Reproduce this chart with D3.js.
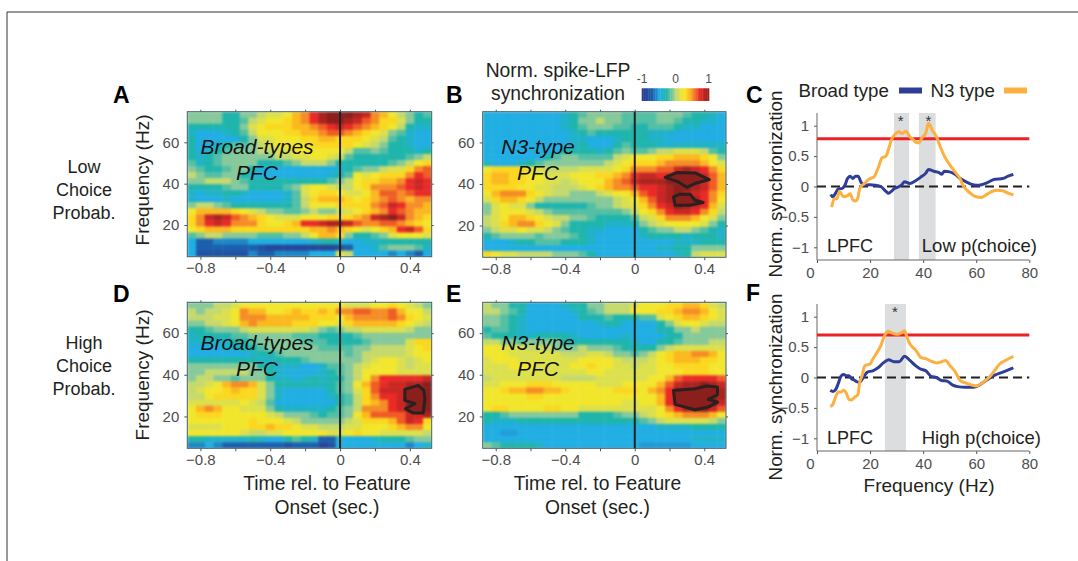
<!DOCTYPE html>
<html>
<head>
<meta charset="utf-8">
<script src="https://cdn.jsdelivr.net/npm/d3@7"></script>
<style>
  html, body { margin: 0; padding: 0; background: #fff; }
  svg { display: block; font-family: "Liberation Sans", Arial, sans-serif; }
</style>
</head>
<body>
<div id="chart"></div>
<script>
const timeBins = [-0.85,-0.8,-0.75,-0.7,-0.65,-0.6,-0.55,-0.5,-0.45,-0.4,-0.35,-0.3,-0.25,-0.2,-0.15,-0.1,-0.05,0,0.05,0.1,0.15,0.2,0.25,0.3,0.35,0.4,0.45,0.5];
const freqBins = [73.3,70.4,67.5,64.6,61.7,58.7,55.8,52.9,50,47.1,44.2,41.2,38.3,35.4,32.5,29.6,26.7,23.8,20.8,17.9,15,12.1,9.2,6.2];

// values in tenths of the colorbar, -10 .. 10, rows go top to bottom
const heatA = [
[-1,-1,-1,-1,-3,-3,-1,-1,0,1,1,2,4,5,7,9,10,10,10,9,8,5,4,2,0,-1,-3,-2],
[-1,-1,-1,-1,-3,-3,-2,0,1,2,2,3,4,5,7,9,10,10,9,8,6,5,3,3,1,-1,-3,-3],
[-3,-3,-3,-3,-3,-3,-1,1,2,3,3,3,4,4,5,6,7,8,7,6,5,4,3,2,0,-3,-4,-4],
[-4,-5,-5,-5,-4,-3,-2,0,2,2,2,3,3,4,4,5,6,6,5,4,3,2,1,-1,-2,-4,-5,-5],
[-3,-5,-5,-5,-5,-5,-3,-1,1,1,2,2,2,3,3,4,4,3,3,3,2,1,0,-2,-3,-4,-5,-5],
[-3,-5,-5,-4,-3,-2,-2,-1,0,1,2,2,2,2,3,3,3,3,3,2,1,0,-1,-3,-3,-4,-5,-5],
[-3,-5,-4,-3,-2,-1,-1,-1,0,0,1,1,2,2,2,2,2,2,0,-2,-2,-1,-2,-3,-3,-3,-4,-3],
[-3,-4,-3,-2,-1,-1,-1,-1,-1,-1,0,0,1,1,2,2,1,0,-2,-3,-3,-3,-3,-3,-3,-2,-1,0],
[-2,-4,-3,-2,-1,-1,-1,-1,-3,-3,-3,-2,-1,0,0,0,-1,-3,-3,-3,-3,-3,-3,-2,-1,0,2,3],
[-1,-2,-3,-3,-2,-1,-1,-3,-5,-5,-5,-5,-5,-5,-5,-5,-5,-4,-3,-2,-1,-1,0,1,1,3,5,6],
[0,-1,-2,-2,-1,-1,-3,-4,-5,-5,-5,-5,-5,-5,-5,-5,-4,-3,-2,2,1,2,3,3,3,5,7,6],
[-1,-1,0,0,0,-1,-2,-3,-3,-3,-3,-3,-3,-3,-3,-3,-2,-1,0,2,3,3,4,4,5,7,8,7],
[-3,-3,-3,-3,-2,-1,-1,-3,-3,-3,-3,-2,-1,1,2,2,1,0,0,2,3,5,5,5,6,7,8,7],
[-4,-5,-4,-4,-3,-3,-4,-5,-5,-5,-5,-4,-2,1,2,3,3,2,1,1,2,4,6,6,5,6,7,7],
[-4,-5,-5,-5,-4,-5,-5,-5,-5,-5,-5,-4,-2,0,3,4,4,4,3,2,3,4,5,6,5,4,5,5],
[-1,0,0,-1,-2,-3,-3,-3,-3,-3,-3,-3,-2,0,2,2,2,3,3,3,3,5,6,8,7,5,5,4],
[2,4,4,4,4,3,2,1,0,-1,-1,-2,-2,-1,0,-1,-1,0,1,2,3,4,5,7,6,5,4,4],
[3,5,8,9,8,6,5,4,3,2,1,1,1,2,2,2,3,3,3,4,5,8,9,10,8,5,4,3],
[3,5,7,8,7,5,5,5,3,2,2,3,4,7,7,8,9,9,8,6,5,5,6,6,5,4,3,2],
[2,3,4,4,4,3,3,3,3,3,3,3,3,3,4,4,5,4,3,2,1,2,3,4,7,8,6,3],
[-2,-1,0,0,-1,-1,-1,-1,-2,-2,-2,-1,-1,0,2,4,4,3,-1,-3,-3,-2,-1,1,2,2,2,1],
[-5,-7,-7,-6,-6,-6,-6,-5,-5,-5,-5,-5,-5,-5,-4,-3,-3,-4,-5,-5,-4,-4,-3,-3,-3,-3,-3,-3],
[-5,-7,-7,-7,-7,-7,-7,-7,-8,-9,-9,-9,-9,-9,-9,-9,-9,-8,-7,-5,-5,-4,-2,-1,-1,-1,-2,-4],
[-5,-8,-8,-8,-8,-8,-8,-6,-7,-7,-6,-6,-6,-6,-5,-5,-5,1,0,-5,-5,-5,-5,-6,-5,-6,-7,-5]
];
const heatB = [
[-5,-5,-5,-5,-5,-5,-5,-5,-5,-4,-3,-2,-1,-1,-1,-1,-2,-2,-2,-2,-1,-1,-1,-2,-3,-3,-4,-5],
[-5,-5,-5,-5,-5,-5,-5,-5,-5,-4,-3,-1,-1,0,-1,-1,-2,-2,-2,-2,-1,-1,-2,-3,-3,-4,-4,-5],
[-5,-5,-5,-5,-5,-5,-5,-5,-5,-4,-3,-2,-1,-1,-1,-2,-2,-3,-3,-2,-2,-2,-3,-4,-4,-5,-5,-5],
[-5,-5,-5,-5,-5,-5,-5,-5,-5,-5,-4,-3,-2,-3,-3,-3,-3,-3,-3,-4,-4,-4,-5,-5,-5,-5,-5,-5],
[-5,-5,-5,-5,-5,-5,-5,-5,-5,-5,-4,-4,-5,-5,-5,-4,-3,-3,-3,-4,-4,-5,-5,-5,-5,-5,-5,-5],
[-5,-5,-5,-5,-5,-5,-5,-5,-5,-5,-4,-3,-5,-5,-5,-3,-2,-3,-3,-3,-4,-4,-4,-4,-4,-4,-4,-4],
[-5,-5,-5,-5,-5,-5,-5,-5,-5,-3,-3,-3,-3,-4,-3,-2,-1,-2,-2,-1,0,0,1,1,1,0,-2,-3],
[-5,-5,-5,-5,-5,-5,-5,-3,-2,-1,-1,-2,-2,-2,-2,0,1,2,2,2,3,3,4,4,4,3,2,-1],
[-4,-5,-5,-5,-4,-3,-2,-1,-1,-1,-1,-1,-1,-1,0,1,2,3,3,3,4,5,5,5,5,4,2,1],
[2,3,3,3,3,1,1,0,0,0,0,1,1,1,1,2,3,5,5,5,6,6,8,9,8,7,5,3],
[3,4,4,3,3,2,2,1,1,1,2,2,2,3,3,4,5,7,8,8,7,8,9,10,9,8,6,4],
[3,4,4,3,3,2,2,1,1,0,1,2,2,2,4,5,6,8,9,9,9,10,10,10,10,8,6,4],
[3,3,3,3,2,2,1,1,0,0,0,1,2,3,4,5,5,6,7,7,8,9,10,10,9,8,6,4],
[2,4,5,5,5,3,2,1,0,0,-1,-1,-1,0,1,2,2,4,6,7,8,9,10,9,8,7,5,3],
[1,3,4,4,3,2,0,-1,-1,-1,-1,-1,-1,-1,-1,0,1,2,4,6,8,9,10,10,9,7,5,2],
[-1,1,2,1,1,-1,-3,-3,-3,-3,-3,-3,-2,-1,-1,0,1,1,3,5,7,8,10,9,8,7,4,1],
[-1,1,2,2,2,1,0,-1,-2,-2,-2,-2,-2,-2,-2,-2,-1,0,2,3,5,7,8,8,7,5,3,0],
[0,1,2,4,4,3,2,1,0,0,-1,-1,-2,-3,-3,-3,-3,-2,0,1,3,5,5,5,4,2,1,-1],
[0,1,3,4,5,5,3,2,1,-1,-3,-3,-3,-3,-4,-4,-4,-3,-1,0,1,2,2,2,2,1,-1,-3],
[-1,0,1,1,2,1,1,0,-1,-2,-3,-3,-4,-4,-5,-5,-5,-5,-3,-2,-1,-1,0,0,-1,-2,-3,-4],
[-3,-2,-1,-1,-1,-1,-2,-1,-1,-1,-2,-3,-4,-5,-5,-5,-5,-5,-4,-3,-3,-3,-3,-4,-3,-3,-3,-4],
[-5,-5,-5,-4,-3,-3,-2,-2,-2,-3,-3,-3,-4,-5,-5,-5,-5,-5,-5,-5,-5,-5,-4,-4,-4,-3,-3,-3],
[-5,-5,-5,-5,-5,-5,-5,-5,-5,-5,-5,-5,-5,-5,-5,-5,-5,-5,-5,-5,-4,-4,-3,-3,-1,-1,-1,-1],
[3,2,1,1,0,0,0,0,-1,-1,-1,-2,-3,-5,-5,-5,-5,-5,-5,-5,-5,-5,-4,-3,0,1,1,1]
];
const heatD = [
[-1,-1,-1,0,0,1,2,2,2,2,2,2,2,2,2,2,2,2,1,1,1,2,2,3,2,1,0,-1],
[0,-1,0,0,1,2,5,4,4,2,2,3,4,3,3,4,3,5,5,6,6,5,5,6,4,2,2,0],
[0,0,0,1,1,2,5,5,5,4,4,4,4,4,3,3,3,2,4,5,5,5,5,6,5,3,2,1],
[-1,-1,0,0,1,2,4,5,4,4,4,4,3,3,3,2,2,1,3,4,4,4,4,4,3,2,1,0],
[-3,-3,-2,-1,-1,-1,0,1,1,1,1,1,1,1,0,-1,-2,-1,0,0,1,1,1,1,1,0,-1,-1],
[-4,-3,-3,-3,-3,-2,-2,-1,-1,-1,-1,-1,-2,-2,-2,-3,-3,-3,-3,-2,-1,-1,-1,-1,-1,-1,-1,-1],
[-4,-4,-4,-4,-4,-3,-3,-2,-1,-1,-1,-1,-1,-2,-2,-2,-3,-3,-3,-3,-2,-1,-1,-1,-1,1,3,3],
[-5,-5,-5,-5,-4,-4,-3,-3,-2,-1,-1,-1,-1,-1,-1,-2,-2,-2,-2,-1,-1,0,0,0,0,1,2,3],
[-5,-5,-5,-5,-5,-5,-5,-4,-3,-3,-2,-1,-1,-1,-1,-1,-1,-1,-2,-1,0,0,0,0,0,1,2,2],
[-3,-3,-3,-3,-3,-3,-3,-3,-4,-4,-3,-3,-3,-2,-1,-1,-1,-1,-1,-1,0,1,2,2,1,0,1,2],
[-1,-1,-1,-1,-1,-1,-1,-1,-3,-3,-4,-4,-4,-5,-5,-4,-2,-2,-1,0,1,2,2,2,1,0,1,1],
[-1,-1,0,0,0,0,0,-1,-1,-3,-4,-5,-5,-5,-5,-4,-3,-2,-1,0,2,2,2,2,1,1,1,1],
[-1,0,0,-1,-1,-2,-1,-1,-1,-3,-4,-4,-5,-4,-3,-4,-3,-3,-1,0,2,5,7,7,7,7,7,8],
[0,0,1,2,4,5,5,4,1,-1,-3,-3,-3,-3,-3,-3,-3,-2,-1,2,4,6,7,8,8,9,9,10],
[0,1,2,2,3,4,3,3,1,-1,-4,-5,-5,-5,-5,-5,-3,-2,-1,1,3,6,8,8,8,10,10,10],
[0,0,2,3,3,3,3,3,1,-1,-4,-5,-5,-5,-5,-5,-4,-3,-2,0,3,5,7,7,8,10,10,10],
[1,1,1,1,1,1,2,1,0,-2,-5,-5,-5,-5,-5,-5,-5,-3,-2,0,3,4,5,7,8,10,10,10],
[2,4,5,4,2,2,1,1,1,-1,-3,-4,-4,-4,-4,-4,-3,-2,-1,0,5,5,5,7,8,10,10,10],
[2,3,3,3,2,2,2,2,2,1,0,-1,-1,-1,-2,-3,-2,-2,-1,2,4,6,6,6,6,8,8,9],
[2,2,2,2,2,2,2,3,2,2,2,1,0,-1,-1,-1,-1,-1,0,1,3,3,3,4,6,8,7,3],
[1,1,1,1,2,2,2,3,3,4,3,3,2,1,1,0,0,0,1,1,2,2,2,3,4,5,5,2],
[2,2,2,2,2,2,1,0,0,1,1,2,2,2,2,2,1,1,2,3,2,2,1,1,1,1,1,0],
[-3,-3,-4,-4,-4,-4,-4,-3,-4,-5,-5,-3,-2,-3,-4,-7,-7,-4,-5,-5,-5,-4,-3,-3,-3,-2,-1,-1],
[-6,-6,-5,-6,-7,-7,-7,-7,-7,-7,-7,-8,-7,-7,-7,-9,-8,-5,-5,-5,-5,-5,-5,-5,-5,-6,-5,-4]
];
const heatE = [
[0,-1,-1,-3,-3,-5,-5,-5,-5,-4,-3,-3,-1,-1,0,0,0,1,2,2,2,3,3,4,4,3,1,0],
[0,0,-1,-2,-3,-5,-5,-5,-5,-5,-4,-3,-2,-1,0,0,0,2,2,2,3,3,4,5,5,4,2,1],
[-1,-1,-2,-3,-4,-5,-5,-5,-5,-5,-5,-3,-3,-3,-2,-3,-3,-3,-2,-2,1,2,3,4,4,3,2,1],
[-1,-1,-2,-3,-4,-5,-5,-5,-5,-5,-5,-5,-5,-4,-3,-3,-5,-5,-5,-5,-3,-1,1,2,2,1,0,0],
[-3,-2,-2,-3,-4,-5,-5,-5,-5,-5,-5,-5,-5,-5,-5,-5,-5,-5,-5,-5,-3,-3,-1,-1,0,-1,-1,-1],
[-2,-3,-3,-3,-4,-4,-3,-3,-3,-3,-4,-5,-5,-5,-5,-5,-4,-5,-5,-5,-5,-3,-3,-1,-1,-1,-1,-1],
[0,0,-1,-1,-2,-1,-1,-1,-1,-3,-3,-3,-3,-3,-3,-3,-3,-4,-5,-5,-3,-3,-2,-1,-1,-1,0,0],
[2,2,1,1,1,0,0,0,-1,-1,-1,0,-1,-1,-1,-2,-3,-3,-3,-3,-1,0,1,1,1,1,1,1],
[2,2,2,1,1,1,1,1,1,0,0,0,1,1,0,-1,-1,-2,-1,0,2,3,4,4,5,5,4,2],
[1,2,2,2,1,1,1,1,1,1,1,2,2,2,2,1,0,0,0,1,2,3,4,4,4,3,3,2],
[1,1,1,2,2,2,1,1,1,1,2,2,3,2,2,1,1,0,1,1,2,2,3,3,3,3,2,2],
[1,1,1,1,1,1,1,1,1,1,1,1,2,2,1,1,1,1,1,1,2,2,2,3,3,3,2,2],
[0,1,1,1,1,1,1,1,1,0,0,0,0,1,1,1,1,1,1,2,2,4,6,7,7,7,7,6],
[1,1,2,2,2,3,3,3,2,2,2,2,2,1,1,1,2,2,2,2,4,6,8,9,9,10,9,8],
[2,2,3,4,4,5,5,4,4,3,2,2,2,2,2,3,3,3,2,4,5,7,10,10,10,10,10,9],
[2,2,2,2,2,3,3,2,2,2,2,2,2,2,2,2,2,2,2,2,4,7,10,10,10,10,10,9],
[2,2,2,2,2,2,2,2,2,2,2,2,2,2,2,2,1,1,2,2,4,7,9,10,10,10,10,8],
[2,3,3,2,2,2,2,3,3,2,2,1,1,1,1,1,1,1,1,1,2,5,7,9,10,10,8,6],
[-3,-3,-2,-1,-1,-1,-1,-1,-1,-1,-1,-3,-3,-3,-3,-2,-1,-1,0,1,2,3,4,5,5,5,4,2],
[-3,-4,-4,-4,-3,-3,-3,-3,-3,-3,-3,-3,-3,-3,-3,-3,-3,-3,-2,-1,0,1,1,1,1,1,0,-1],
[-5,-5,-5,-5,-5,-5,-5,-5,-5,-5,-5,-5,-5,-5,-5,-5,-5,-5,-5,-5,-4,-4,-4,-4,-3,-3,-3,-3],
[-5,-5,-5.4,-5.4,-5,-5,-5,-5,-5,-5,-5,-5,-5,-5,-5,-5,-5,-5,-5,-5,-5,-5,-5,-5,-5,-5,-5,-5],
[-5,-5,-5,-5,-5,-5,-5,-5,-5,-5,-5,-5,-5,-5,-5,-5,-5,-5,-5,-5,-5,-5,-5,-5,-4,-4,-4,-4],
[-1,-2,-3,-3,-3,-3,-4,-5,-5,-5,-5,-5,-5,-5,-5,-5,-5,-5,-5.5,-5.5,-5.5,-5.5,-5.5,-5.5,-5,-5,-5,-5]
];

// significance contours, [time, frequency]
const contourB1 = [[.175,43.2],[.242,45.5],[.347,45.3],[.429,42.1],[.356,40.5],[.299,38.4],[.251,41]];
const contourB2 = [[.223,33.8],[.261,35.1],[.318,35.1],[.347,32.2],[.394,31.1],[.318,29.8],[.232,29.8]];
const contourD = [[.371,33],[.448,34.9],[.48,32.5],[.486,28.5],[.476,21.6],[.419,21.6],[.375,23.7],[.429,26.1],[.371,27.7]];
const contourE = [[.223,32.5],[.347,33.3],[.413,34.6],[.476,34.1],[.476,30.4],[.423,28.2],[.476,26.9],[.423,24.5],[.347,23.2],[.232,25.8]];

const colorStops = [-10,-7,-5,-3,-1,0,2.4,4,5,7,10];
const colorRange = ['#2b3990','#1c60ad','#20aee3','#1fb5ad','#86c99b','#c5d96c','#fbe91f','#fbb81f','#f58c26','#ea2a26','#8a1f1c'];
const colorbarValues = d3.range(-10, 10.01, 0.5);

const freqC = [5.5,6.5,7.5,8.5,10,11.5,12.5,13.5,14.5,15.5,16,17,18,19,20,21.5,23,24.5,26,27,28,29,30,31,32,33.5,35,36.5,37.5,38.5,39.5,41,42,43.5,45,46.5,48,50,52,54,55,56.5,58,60,62,64,66,68,70,72,74];
const n3C = [-.34,-.2,-.2,-.08,-.17,-.15,-.12,-.22,-.24,-.17,-.05,.02,.05,.1,.13,.16,.3,.47,.5,.62,.76,.84,.88,.9,.87,.91,.82,.76,.72,.72,.8,.88,1.04,.92,.82,.65,.5,.36,.24,.12,.02,-.06,-.12,-.17,-.18,-.13,-.08,-.06,-.07,-.11,-.14];
const freqBroadC = [5.2,6,7,8,9.5,10.5,11.5,12.5,13.5,14.5,15.5,16.5,17.5,20,22,24,26,27,28,29,31,32,33,35,37,39,41,42,44,46,47,48,50,52,54,56,58,60,62,64,67,70,72,74];
const broadC = [-.13,-.17,-.11,-.04,-.03,.02,.13,.17,.13,.17,.17,.08,.02,.03,.02,0,-.08,-.11,-.08,-.04,0,.03,.08,.05,.09,.15,.22,.28,.25,.23,.2,.25,.24,.2,.13,.08,.04,.02,.03,.06,.12,.13,.17,.2];
const freqF = [5,6,7,8,9,10,11,12,13,14,15,15.5,16,17,18,19,20,21,23,24,25,26,27,28,30,31,32,33,34,35,36,37,38,39,41,43,45,47,48.5,50,52,54,56,58,60,62,64,65,67,69,71,74];
const n3F = [-.48,-.44,-.32,-.24,-.24,-.21,-.25,-.36,-.37,-.33,-.3,-.27,-.1,.03,.19,.21,.22,.3,.44,.52,.64,.73,.76,.74,.71,.72,.74,.77,.65,.55,.5,.46,.4,.33,.31,.27,.24,.26,.28,.2,.1,-.05,-.09,-.12,-.14,-.1,-.03,.01,.12,.23,.28,.35];
const freqBroadF = [5,6,7,8,9,10,11,12,13,14,15,16,17,19,21,23,25,27,29,31,33,35,37,39,41,43,45,47,49,51,53,56,59,61,63,65,67,70,74];
const broadF = [-.21,-.23,-.2,-.1,.02,.05,.03,.03,-.02,-.04,-.07,-.08,-.03,.09,.11,.16,.24,.29,.26,.26,.35,.28,.2,.14,.11,.02,0,-.05,-.06,-.12,-.15,-.16,-.16,-.13,-.07,-.01,.04,.09,.16];

const thresholdC = 0.785, thresholdF = 0.70;
const sigC = [[29,34.7],[38.4,44.7]], starsC = [31.5,42];
const sigF = [[25.6,33.5]], starsF = [29.4];

const blue = '#2e3d98', orange = '#fbb040', red = '#ee2027', tickGrey = '#555';

const svg = d3.select('#chart').append('svg').attr('width', 1078).attr('height', 561);

/* page frame */
svg.append('path').attr('d', 'M7,561V12H1078').attr('fill', 'none').attr('stroke', '#333').attr('stroke-width', 1);

const color = d3.scaleLinear().domain(colorStops).range(colorRange);

function styleAxis(g) {
    g.select('.domain').remove();
    g.selectAll('line').attr('stroke', tickGrey);
    g.selectAll('text').attr('fill', '#4d4d4d').attr('font-size', 15).attr('font-family', '"Liberation Sans", Arial, sans-serif');
}

function label(txt, x, y, size, opts) {
    opts = opts || {};
    const t = svg.append('text').text(txt)
        .attr('x', x).attr('y', y)
        .attr('font-size', size)
        .attr('fill', opts.fill || '#231f20')
        .attr('text-anchor', opts.anchor || 'start');
    if (opts.italic) t.attr('font-style', 'italic');
    if (opts.bold) t.attr('font-weight', 'bold');
    if (opts.rotate) t.attr('transform', `rotate(-90 ${x} ${y})`);
    return t;
}

let clipCount = 0;
function heatPanel(data, box, contours) {
    const x = d3.scaleLinear().domain([-0.875, 0.525]).range([box.left, box.right]);
    const y = d3.scaleLinear().domain([4.7, 74.8]).range([box.bottom, box.top]);
    const bx = d3.scaleBand().domain(timeBins).range([box.left, box.right]);
    const by = d3.scaleBand().domain(freqBins).range([box.top, box.bottom]);

    const clipId = 'clip' + (clipCount++);
    svg.append('clipPath').attr('id', clipId).append('rect')
        .attr('x', box.left).attr('y', box.top)
        .attr('width', box.right - box.left).attr('height', box.bottom - box.top);

    const cells = svg.append('g').attr('clip-path', `url(#${clipId})`)
        .append('g').style('filter', 'blur(0.8px)');
    data.forEach((row, r) => {
        cells.selectAll(null)
            .data(row)
            .enter()
            .append('rect')
            .attr('x', (d, c) => bx(timeBins[c]))
            .attr('y', by(freqBins[r]))
            .attr('width', bx.bandwidth() + 0.4)
            .attr('height', by.bandwidth() + 0.4)
            .attr('fill', d => color(d));
    });

    const timeTicks = [-0.8, -0.6, -0.4, -0.2, 0, 0.2, 0.4];
    const fmt = d => (Math.abs(d * 10) % 4 === 0) ? (d === 0 ? '0' : d3.format('.1f')(d)) : '';
    svg.append('g').attr('transform', `translate(0,${box.bottom})`)
        .call(d3.axisBottom(x).tickValues(timeTicks).tickFormat(fmt).tickSize(3).tickPadding(3))
        .call(styleAxis);
    svg.append('g').attr('transform', `translate(0,${box.top})`)
        .call(d3.axisTop(x).tickValues(timeTicks).tickFormat('').tickSize(2))
        .call(styleAxis);
    svg.append('g').attr('transform', `translate(${box.left},0)`)
        .call(d3.axisLeft(y).tickValues([20, 40, 60]).tickSize(3).tickPadding(5))
        .call(styleAxis);
    svg.append('g').attr('transform', `translate(${box.right},0)`)
        .call(d3.axisRight(y).tickValues([20, 40, 60]).tickFormat('').tickSize(2))
        .call(styleAxis);

    svg.append('rect')
        .attr('x', box.left).attr('y', box.top)
        .attr('width', box.right - box.left).attr('height', box.bottom - box.top)
        .attr('fill', 'none').attr('stroke', '#3c5f66').attr('stroke-width', 1);

    /* zero line */
    svg.append('line')
        .attr('x1', x(0)).attr('x2', x(0))
        .attr('y1', box.top).attr('y2', box.bottom)
        .attr('stroke', '#222').attr('stroke-width', 2);

    const contourLine = d3.line().x(d => x(d[0])).y(d => y(d[1])).curve(d3.curveLinearClosed);
    contours.forEach(c => {
        svg.append('path')
            .datum(c)
            .attr('d', contourLine)
            .attr('fill', '#8a1f1c')
            .attr('stroke', '#2a2020')
            .attr('stroke-width', 3)
            .attr('stroke-linejoin', 'round');
    });
}

function linePanel(box, n3Freq, n3, broadFreq, broad, threshold, sig, stars) {
    const x = d3.scaleLinear().domain([0, 80]).range([box.left, box.right]);
    const y = d3.scaleLinear().domain([-1, 1]).range([box.y1, box.y0]);

    sig.forEach(s => {
        svg.append('rect')
            .attr('x', x(s[0])).attr('width', x(s[1]) - x(s[0]))
            .attr('y', box.top).attr('height', box.bottom - box.top)
            .attr('fill', '#dcddde');
    });

    svg.append('g').attr('transform', `translate(0,${box.bottom})`)
        .call(d3.axisBottom(x).tickValues([0, 20, 40, 60, 80]).tickSize(3).tickPadding(4))
        .call(styleAxis)
        .selectAll('text').attr('dx', d => d === 0 ? -7 : 0);
    svg.append('g').attr('transform', `translate(${box.left},0)`)
        .call(d3.axisLeft(y).tickValues([-1, -0.5, 0, 0.5, 1]).tickFormat(d3.format('')).tickSize(3).tickPadding(5))
        .call(styleAxis);
    svg.append('path')
        .attr('d', `M${box.left},${box.top}V${box.bottom}H${box.right}`)
        .attr('fill', 'none').attr('stroke', '#666').attr('stroke-width', 1);

    svg.append('line')
        .attr('x1', x(0)).attr('x2', x(80))
        .attr('y1', y(threshold)).attr('y2', y(threshold))
        .attr('stroke', red).attr('stroke-width', 3);
    svg.append('line')
        .attr('x1', x(0)).attr('x2', x(80))
        .attr('y1', y(0)).attr('y2', y(0))
        .attr('stroke', '#231f20').attr('stroke-width', 2)
        .attr('stroke-dasharray', '9,5');

    const line = d3.line().x(d => x(d[0])).y(d => y(d[1])).curve(d3.curveMonotoneX);
    svg.append('path').datum(d3.zip(broadFreq, broad))
        .attr('d', line).attr('fill', 'none')
        .attr('stroke', blue).attr('stroke-width', 3);
    svg.append('path').datum(d3.zip(n3Freq, n3))
        .attr('d', line).attr('fill', 'none')
        .attr('stroke', orange).attr('stroke-width', 3);

    stars.forEach(s => {
        label('*', x(s), box.top + 13, 15, { anchor: 'middle', fill: '#333', bold: false });
    });
}

const panelA = { left: 187.3, right: 431.7, top: 111.7, bottom: 256.7 };
const panelB = { left: 482.7, right: 726, top: 111.7, bottom: 257.3 };
const panelD = { left: 187.3, right: 431.7, top: 302.3, bottom: 448.3 };
const panelE = { left: 482.7, right: 726, top: 302.3, bottom: 448.3 };
const panelC = { left: 817, right: 1029.3, top: 113, bottom: 260, y0: 125.7, y1: 247.3 };
const panelF = { left: 817, right: 1029.3, top: 304, bottom: 451, y0: 316.7, y1: 438.3 };

heatPanel(heatA, panelA, []);
heatPanel(heatB, panelB, [contourB1, contourB2]);
heatPanel(heatD, panelD, [contourD]);
heatPanel(heatE, panelE, [contourE]);
linePanel(panelC, freqC, n3C, freqBroadC, broadC, thresholdC, sigC, starsC);
linePanel(panelF, freqF, n3F, freqBroadF, broadF, thresholdF, sigF, starsF);

/* colorbar */
const barX = d3.scaleLinear().domain([-10, 10]).range([641.7, 709]);
svg.append('g').selectAll('rect')
    .data(colorbarValues)
    .enter()
    .append('rect')
    .attr('x', d => barX(d))
    .attr('y', 88.3)
    .attr('width', d => d < 10 ? barX(0.6) - barX(0) : 0)
    .attr('height', 12.7)
    .attr('fill', d => color(d));
label('-1', 642, 83, 12, { anchor: 'middle', fill: '#4d4d4d' });
label('0', 675.7, 83, 12, { anchor: 'middle', fill: '#4d4d4d' });
label('1', 708.5, 83, 12, { anchor: 'middle', fill: '#4d4d4d' });
label('Norm. spike-LFP', 558, 77, 19.3, { anchor: 'middle' });
label('synchronization', 558, 100, 19.3, { anchor: 'middle' });

/* legend */
label('Broad type', 798.5, 97, 18.7);
svg.append('line').attr('x1', 899).attr('x2', 922).attr('y1', 90.5).attr('y2', 90.5).attr('stroke', blue).attr('stroke-width', 6);
label('N3 type', 930.5, 97, 18.7);
svg.append('line').attr('x1', 1004).attr('x2', 1027).attr('y1', 90.5).attr('y2', 90.5).attr('stroke', orange).attr('stroke-width', 6);

/* panel letters */
[['A', 113, 103], ['B', 446, 103], ['C', 746, 103], ['D', 113, 302], ['E', 446, 302], ['F', 746, 301]].forEach(l => {
    label(l[0], l[1], l[2], 23, { bold: true, fill: '#000' });
});

/* row labels */
[['Low', 173], ['Choice', 196], ['Probab.', 219], ['High', 349], ['Choice', 372], ['Probab.', 395]].forEach(l => {
    label(l[0], 84, l[1], 18, { anchor: 'middle' });
});

label('Frequency (Hz)', 149, 180, 19, { anchor: 'middle', rotate: true });
label('Frequency (Hz)', 149, 375, 19, { anchor: 'middle', rotate: true });
label('Norm. synchronization', 781.5, 184, 18.8, { anchor: 'middle', rotate: true });
label('Norm. synchronization', 781.5, 387, 18.8, { anchor: 'middle', rotate: true });

/* heat map captions */
[['Broad-types', 257, 154], ['PFC', 257, 180], ['Broad-types', 257, 350], ['PFC', 257, 376],
 ['N3-type', 538, 154], ['PFC', 538, 180], ['N3-type', 538, 350], ['PFC', 538, 376]].forEach(l => {
    label(l[0], l[1], l[2], 21, { anchor: 'middle', italic: true, fill: '#111' });
});

label('Time rel. to Feature', 327, 490, 19.3, { anchor: 'middle' });
label('Onset (sec.)', 327, 514, 19.3, { anchor: 'middle' });
label('Time rel. to Feature', 597.5, 490, 19.3, { anchor: 'middle' });
label('Onset (sec.)', 597.5, 514, 19.3, { anchor: 'middle' });

label('LPFC', 827, 252, 18);
label('Low p(choice)', 1037, 252, 18.5, { anchor: 'end' });
label('LPFC', 827, 444, 18);
label('High p(choice)', 1041, 444, 18.5, { anchor: 'end' });
label('Frequency (Hz)', 929, 492, 19, { anchor: 'middle' });
</script>
</body>
</html>
